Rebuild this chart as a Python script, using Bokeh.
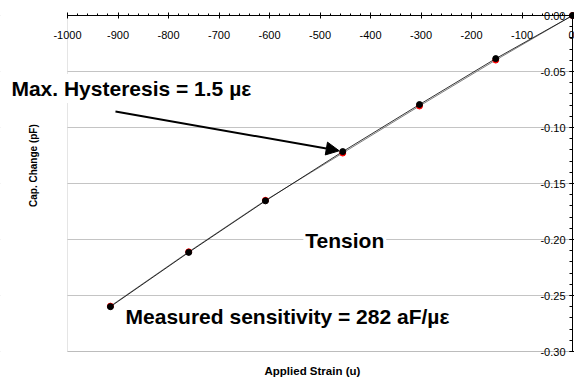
import math
from bokeh.plotting import figure
from bokeh.models import (Range1d, FixedTicker, NumeralTickFormatter, Label, Arrow,
                          NormalHead, BoxAnnotation)
from bokeh.embed import file_html
from bokeh.resources import INLINE

# ---- data ----
strain = [-915, -760, -608, -455, -303, -152, 0]
cap_loading = [-0.2600, -0.2115, -0.1655, -0.1215, -0.0795, -0.0385, 0.0]
cap_unloading = [-0.2595, -0.2110, -0.1650, -0.1228, -0.0808, -0.0398, 0.0]

x_ticks = [-1000, -900, -800, -700, -600, -500, -400, -300, -200, -100, 0]
x_tick_labels = ["-1000", "-900", "-800", "-700", "-600", "-500", "-400", "-300", "-200", "-100", "0"]
y_ticks = [0.0, -0.05, -0.10, -0.15, -0.20, -0.25, -0.30]
y_tick_labels = ["0.00", "-0.05", "-0.10", "-0.15", "-0.20", "-0.25", "-0.30"]

x_title = "Applied Strain (u)"
y_title = "Cap. Change (pF)"
note_hyst = "Max. Hysteresis = 1.5 \u00b5\u03b5"
note_tension = "Tension"
note_sens = "Measured sensitivity = 282 aF/\u00b5\u03b5"

X_MIN, X_MAX = -1000, 0
Y_MIN, Y_MAX = -0.30, 0.0

# ---- layout: plot area inside the canvas (pixels) ----
W, H = 574, 379
AREA_L, AREA_R, AREA_T, AREA_B = 67, 572, 15, 351
sx = (AREA_R - AREA_L) / (X_MAX - X_MIN)
sy = (AREA_B - AREA_T) / (Y_MAX - Y_MIN)
xr = Range1d(X_MIN - AREA_L / sx, X_MAX + (W - AREA_R) / sx)
yr = Range1d(Y_MIN - (H - AREA_B) / sy, Y_MAX + AREA_T / sy)

FONT = "Liberation Sans"

p = figure(width=W, height=H, x_range=xr, y_range=yr,
           output_backend="svg", toolbar_location=None, title=None,
           min_border_left=0, min_border_right=0, min_border_top=0, min_border_bottom=0)
p.background_fill_color = "white"
p.border_fill_color = "white"
p.outline_line_color = None

# x axis crossing at y = 0 (top of plot area), labels below the line
xa = p.xaxis[0]
xa.fixed_location = 0
xa.bounds = (X_MIN, X_MAX)
xa.ticker = FixedTicker(ticks=x_ticks, minor_ticks=list(range(X_MIN, X_MAX + 1, 20)))
xa.formatter = NumeralTickFormatter(format="0")
xa.major_label_overrides = dict(zip(x_ticks, x_tick_labels))
xa.major_label_text_font = FONT
xa.major_label_text_font_size = "11px"
xa.major_label_text_color = "black"
xa.major_label_standoff = 12
xa.axis_line_color = "black"
xa.major_tick_line_color = "black"
xa.minor_tick_line_color = "black"
xa.major_tick_in = 3
xa.major_tick_out = 3
xa.minor_tick_in = 2
xa.minor_tick_out = 0

# y axis crossing at x = 0 (right of plot area), labels left of the line
ya = p.yaxis[0]
ya.fixed_location = 0
ya.bounds = (Y_MIN, Y_MAX)
ya.ticker = FixedTicker(ticks=y_ticks, minor_ticks=[round(-0.01 * i, 2) for i in range(31)])
ya.formatter = NumeralTickFormatter(format="0.00")
ya.major_label_overrides = dict(zip(y_ticks, y_tick_labels))
ya.major_label_text_font = FONT
ya.major_label_text_font_size = "11px"
ya.major_label_text_color = "black"
ya.major_label_standoff = 4
ya.axis_line_color = "black"
ya.major_tick_line_color = "black"
ya.minor_tick_line_color = "black"
ya.major_tick_in = 3
ya.major_tick_out = 3
ya.minor_tick_in = 0
ya.minor_tick_out = 3

p.xgrid.visible = False
p.ygrid.ticker = FixedTicker(ticks=y_ticks)
p.ygrid.grid_line_color = "#c4c4c4"
p.ygrid.grid_line_width = 1

# keep the canvas outside the plot area blank, then draw the plot-area frame
p.add_layout(BoxAnnotation(right=X_MIN, fill_color="white", fill_alpha=1.0,
                           line_alpha=0, level="underlay"))
p.add_layout(BoxAnnotation(left=X_MIN, right=X_MAX, bottom=Y_MIN, top=Y_MAX,
                           fill_alpha=0, line_color="#a8a8a8", line_width=1,
                           level="underlay"))

# data series
p.line(strain, cap_unloading, line_color="#808080", line_width=1)
p.scatter(strain, cap_unloading, size=6, fill_color="#ff0000", line_color="#ff0000")
p.line(strain, cap_loading, line_color="black", line_width=0.8)
p.scatter(strain, cap_loading, size=6, fill_color="black", line_color="black")

# axis titles
p.add_layout(Label(x=-515, y=-0.3170, text=x_title, text_font=FONT, text_font_size="11.5px",
                   text_font_style="bold", text_align="center", text_baseline="middle",
                   text_color="black"))
p.add_layout(Label(x=-1067, y=-0.134, text=y_title, text_font=FONT, text_font_size="10px",
                   text_font_style="bold", text_align="center", text_baseline="middle",
                   angle=math.pi / 2, text_color="black"))

# annotations
p.add_layout(Arrow(end=NormalHead(size=13, fill_color="black", line_color="black"),
                   x_start=-905, y_start=-0.0857, x_end=-462, y_end=-0.1208,
                   line_width=2, line_color="black"))
p.add_layout(Label(x=-1117, y=-0.0652, text=note_hyst, text_font=FONT, text_font_size="21px",
                   text_font_style="bold", text_align="left", text_baseline="middle",
                   background_fill_color="white", padding=3, text_color="black"))
p.add_layout(Label(x=-533, y=-0.2009, text=note_tension, text_font=FONT, text_font_size="21px",
                   text_font_style="bold", text_align="left", text_baseline="middle",
                   background_fill_color="white", padding=2, text_color="black"))
p.add_layout(Label(x=-885, y=-0.2685, text=note_sens, text_font=FONT, text_font_size="21px",
                   text_font_style="bold", text_align="left", text_baseline="middle",
                   text_color="black"))

open("out.html", "w").write(file_html(p, INLINE))
